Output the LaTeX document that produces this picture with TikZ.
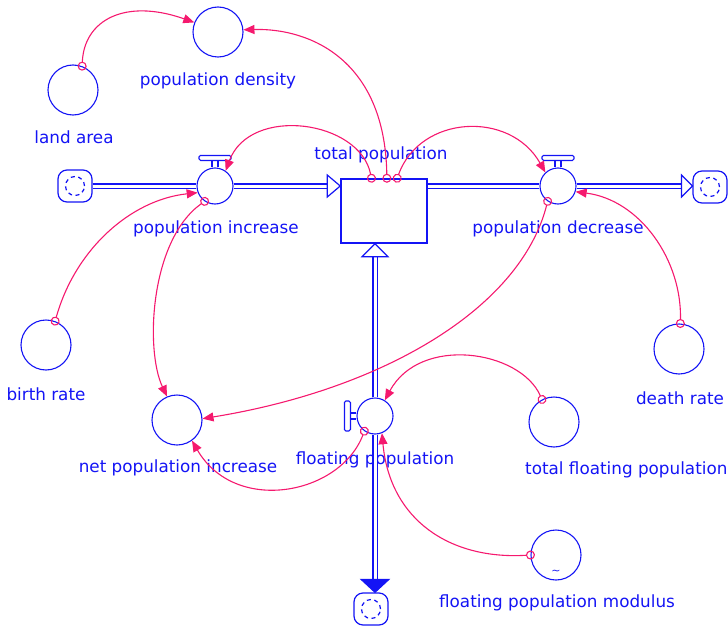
\documentclass[tikz,border=0pt]{standalone}
\usepackage{fontspec}
\setmainfont{DejaVu Sans}
\usetikzlibrary{arrows.meta,calc}
\definecolor{vblue}{RGB}{20,20,245}
\definecolor{vpink}{RGB}{245,25,110}
\begin{document}
\begin{tikzpicture}[x=1pt,y=-1pt,
 aux/.style={circle, draw=vblue, line width=1.1pt, minimum size=50pt, inner sep=0pt},
 valve/.style={circle, draw=vblue, line width=1.1pt, minimum size=36pt, inner sep=0pt},
 stockbox/.style={draw=vblue, line width=1.5pt, minimum width=86pt, minimum height=64pt, inner sep=0pt},
 lbl/.style={text=vblue, font=\fontsize{16.8}{19}\selectfont, inner sep=0pt},
 cloudbox/.style={draw=vblue, line width=1.2pt, rounded corners=9pt, minimum width=34pt, minimum height=32pt, inner sep=0pt},
 pipe/.style={draw=vblue, double=white, double distance=3pt, line width=1.5pt},
 link/.style={vpink, line width=1.1pt, {Circle[open,length=9pt,width=9pt]}-{Triangle[length=11pt,width=9pt]}, shorten <=-4.5pt},
 handle/.style={draw=vblue, fill=white, line width=1.1pt, rounded corners=1.5pt},
 stem/.style={vblue, line width=1.1pt},
 hollowtip/.style={draw=vblue, fill=white, line width=1.2pt},
 solidtip/.style={draw=vblue, fill=vblue, line width=1pt}
 ]
\useasboundingbox (0,0) rectangle (728,626);

% auxiliaries
\node[aux] (popdens) at (218,32) {};
\node[aux] (land) at (73,90) {};
\node[aux] (birth) at (46,345) {};
\node[aux] (netinc) at (177,420) {};
\node[aux] (death) at (679,349) {};
\node[aux] (totflt) at (554,422) {};
\node[aux] (flmod) at (556,555) {};
\node[text=vblue, font=\fontsize{11}{11}\selectfont, inner sep=0pt] (tilde) at (556,572) {\textasciitilde};

% valves, stock, clouds
\node[valve] (vinc) at (215,186) {};
\node[valve] (vdec) at (558,186) {};
\node[valve] (vflt) at (375,416) {};
\node[stockbox] (stock) at (384,211) {};
\node[cloudbox] (cloudL) at (75,186) {};
\node[cloudbox] (cloudR) at (710,187) {};
\node[cloudbox] (cloudB) at (371,609) {};
\foreach \c in {cloudL,cloudR,cloudB}
  \draw[vblue, line width=1.2pt, dash pattern=on 4pt off 3.5pt] (\c) circle[radius=9.5pt];

% labels
\node[lbl] (tpopdens) at (218,81) {population density};
\node[lbl] (tland) at (74,137) {land area};
\node[lbl] (tstock) at (381,155) {total population};
\node[lbl] (tvinc) at (216,229) {population increase};
\node[lbl] (tvdec) at (558,229) {population decrease};
\node[lbl] (tbirth) at (46,394) {birth rate};
\node[lbl] (tnetinc) at (178,468) {net population increase};
\node[lbl] (tvflt) at (375,460) {floating population};
\node[lbl] (tdeath) at (680,398) {death rate};
\node[lbl, anchor=west] (ttotflt) at (525,470) {total floating population};
\node[lbl] (tflmod) at (557,603) {floating population modulus};

% pipes
\coordinate (inTip) at (vinc.east -| stock.west);
\draw[pipe] (cloudL.east) -- (vinc.west);
\draw[pipe] (vinc.east) -- ($(inTip)+(-13,0)$);
\draw[hollowtip] (inTip) -- ++(-13,-11) -- ++(0,22) -- cycle;

\coordinate (outTip) at (cloudR.west |- vdec.east);
\draw[pipe] (stock.east |- vdec.west) -- (vdec.west);
\draw[pipe] (vdec.east) -- ($(outTip)+(-11,0)$);
\draw[hollowtip] (outTip) -- ++(-11,-11) -- ++(0,22) -- cycle;

\coordinate (upTip) at (vflt.north |- stock.south);
\draw[pipe] (vflt.north) -- ($(upTip)+(0,13)$);
\draw[hollowtip] (upTip) -- ++(-13,13) -- ++(26,0) -- cycle;
\coordinate (dnTip) at (vflt.south |- cloudB.north);
\draw[pipe] (vflt.south) -- ($(dnTip)+(0,-13)$);
\draw[solidtip] (dnTip) -- ++(-14,-13) -- ++(28,0) -- cycle;

% valve handles
\foreach \v in {vinc,vdec} {
  \draw[handle] ($(\v.north)+(-16,-12)$) rectangle ($(\v.north)+(16,-7)$);
  \draw[stem] ($(\v.north)+(-3,-7)$) -- ($(\v.north)+(-3,0)$)
              ($(\v.north)+(3,-7)$) -- ($(\v.north)+(3,0)$);
}
\draw[handle] ($(vflt.west)+(-12,-15)$) rectangle ($(vflt.west)+(-6,15)$);
\draw[stem] ($(vflt.west)+(-6,-3)$) -- ($(vflt.west)+(0,-3)$)
            ($(vflt.west)+(-6,3)$) -- ($(vflt.west)+(0,3)$);

% links
\draw[link] (land.69) .. controls (84,20) and (125,-2) .. (popdens.158);
\draw[link] (stock.85) .. controls (385,60) and (310,28) .. (popdens.5);
\draw[link] (stock.111) .. controls (360,120) and (250,105) .. (vinc.55);
\draw[link] (stock.68) .. controls (420,115) and (510,110) .. (vdec.133);
\draw[link] (birth.69) .. controls (75,250) and (130,200) .. (vinc.201);
\draw[link] (vinc.236) .. controls (150,240) and (145,350) .. (netinc.113);
\draw[link] (vdec.236) .. controls (520,310) and (380,390) .. (netinc.3);
\draw[link] (death.87) .. controls (682,260) and (640,200) .. (vdec.342);
\draw[link] (totflt.118) .. controls (520,350) and (420,335) .. (vflt.58);
\draw[link] (vflt.235) .. controls (340,495) and (235,515) .. (netinc.306);
\draw[link] (flmod.180) .. controls (450,560) and (390,520) .. (vflt.292);
\end{tikzpicture}
\end{document}
